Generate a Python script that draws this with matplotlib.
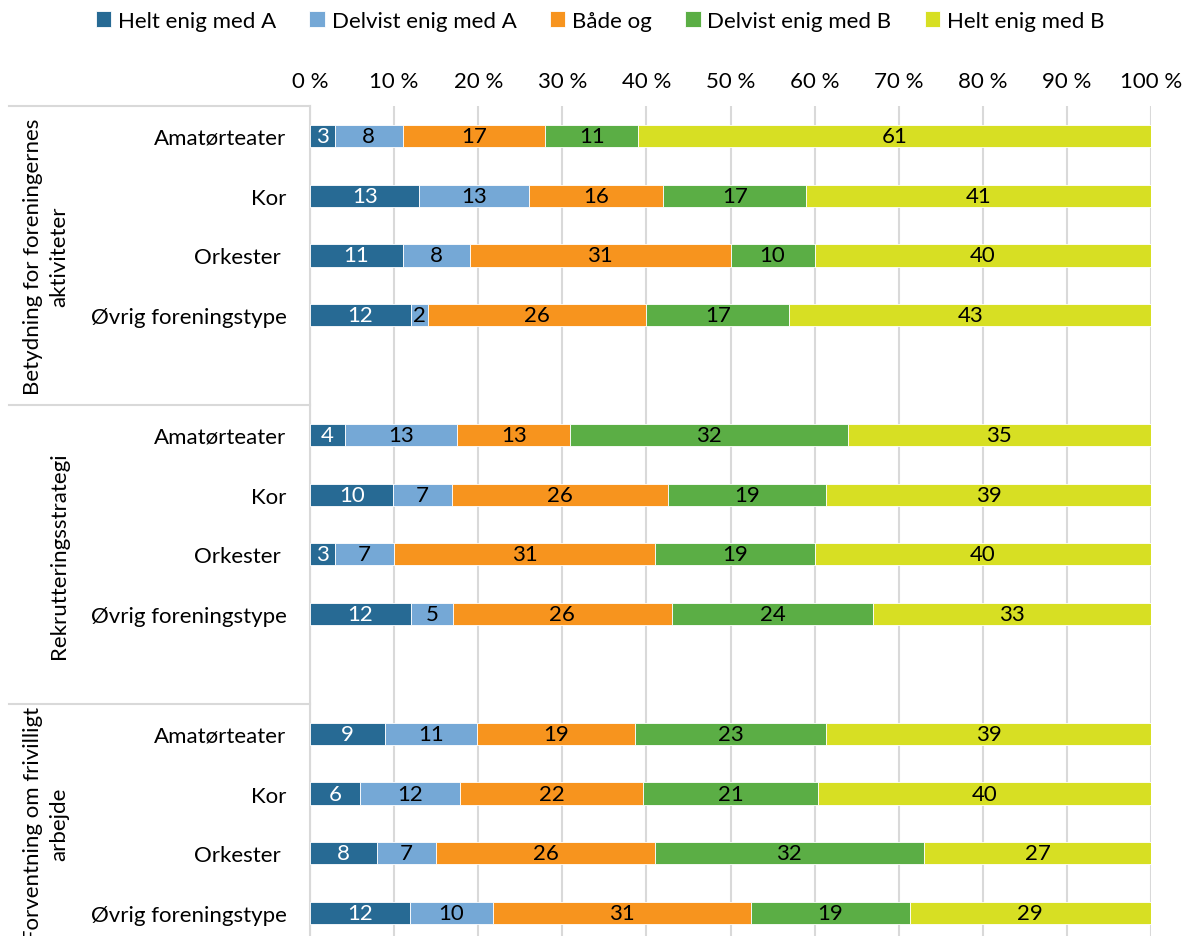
import numpy as np
import matplotlib.pyplot as plt

plt.rcParams['font.family'] = ['Lato', 'DejaVu Sans']

series = ["Helt enig med A", "Delvist enig med A", "Både og", "Delvist enig med B", "Helt enig med B"]
colors = ["#276A94", "#75A8D6", "#F7941E", "#5BAE45", "#D7DF23"]
text_colors = ["white", "black", "black", "black", "black"]

groups = ["Betydning for foreningernes\naktiviteter", "Rekrutteringsstrategi",
          "Forventning om frivilligt\narbejde"]
types = ["Amatørteater", "Kor", "Orkester ", "Øvrig foreningstype"]

# rows: per group, per type; columns follow `series`
values = [
    [[3, 8, 17, 11, 61], [13, 13, 16, 17, 41], [11, 8, 31, 10, 40], [12, 2, 26, 17, 43]],
    [[4, 13, 13, 32, 35], [10, 7, 26, 19, 39], [3, 7, 31, 19, 40], [12, 5, 26, 24, 33]],
    [[9, 11, 19, 23, 39], [6, 12, 22, 21, 40], [8, 7, 26, 32, 27], [12, 10, 31, 19, 29]],
]

W, H = 1184, 937
fig = plt.figure(figsize=(W / 100, H / 100), dpi=100)
top, bottom = 107, 944
ax = fig.add_axes([310 / W, 1 - bottom / H, 841 / W, (bottom - top) / H])

fs = 16
ypos, ylabels = [], []
for g, grp in enumerate(values):
    for t, row in enumerate(grp):
        y = g * 5 + t + 0.5
        ypos.append(y)
        ylabels.append(types[t])
        row = np.array(row, dtype=float)
        pct = row / row.sum() * 100
        left = 0
        for k in range(len(series)):
            ax.barh(y, pct[k], left=left, height=0.37, color=colors[k],
                    edgecolor="white", linewidth=0.6,
                    label=series[k] if (g == 0 and t == 0) else None, zorder=3)
            ax.text(left + pct[k] / 2, y, f"{int(row[k])}", ha="center", va="center",
                    color=text_colors[k], fontsize=fs, zorder=4)
            left += pct[k]

ax.set_xlim(0, 100)
ax.set_ylim(14, 0)
ax.set_xticks(np.arange(0, 101, 10))
ax.set_xticklabels([f"{v} %" for v in range(0, 101, 10)], fontsize=fs)
ax.xaxis.tick_top()
ax.tick_params(axis="x", length=0, pad=11)
ax.set_yticks(ypos)
ax.set_yticklabels(ylabels, fontsize=fs)
ax.tick_params(axis="y", length=0, pad=17)
ax.grid(axis="x", color="#D9D9D9", linewidth=1.5, zorder=0)
for s in ["top", "right", "bottom"]:
    ax.spines[s].set_visible(False)
ax.spines["left"].set_color("#D9D9D9")
ax.spines["left"].set_linewidth(1.5)

# group separators and group labels on the left
tr = ax.get_yaxis_transform()
x0 = (9 - 310) / 841
group_top = [0, 5, 10]
group_mid = [2.5, 7.5, 12]
for g in range(3):
    ax.plot([x0, 0], [group_top[g]] * 2, transform=tr, color="#D9D9D9", lw=1.5, clip_on=False)
    ax.text((69 - 310) / 841, group_mid[g], groups[g], transform=tr, rotation=90,
            ha="right", va="center", multialignment="center", fontsize=fs,
            linespacing=1.35)

fig.legend(loc="center", bbox_to_anchor=(600 / W, 1 - 22 / H), ncol=5, frameon=False,
           fontsize=fs, handlelength=0.7, handleheight=0.7, handletextpad=0.3,
           columnspacing=1.5)

fig.savefig("out.png", dpi=100)
